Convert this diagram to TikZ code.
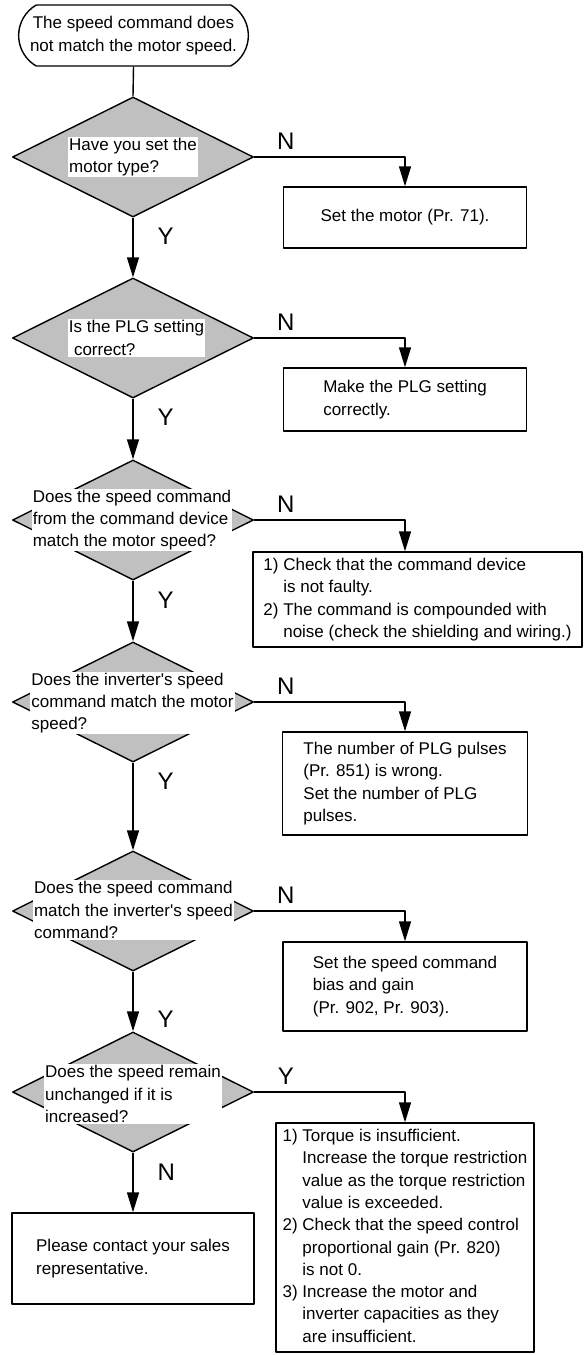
\documentclass[tikz,border=0pt]{standalone}
\usepackage{fontspec}
\setmainfont{Liberation Sans}
\usetikzlibrary{shapes.geometric,shapes.misc,arrows.meta}
\definecolor{qgray}{RGB}{192,192,192}
\newcommand{\hangsp}{\phantom{1)\ }}

\begin{document}
\begin{tikzpicture}[x=0.5pt,y=-0.5pt,line join=round,>={Triangle[length=10pt,width=6pt]},
	font=\fontsize{8.5}{11.15}\selectfont,line width=0.7pt,
	ask/.style={diamond,draw,fill=qgray,minimum width=120.5pt,minimum height=60pt,inner sep=0pt},
	asktxt/.style={fill=white,align=left,inner sep=0.6pt},
	todo/.style={draw,align=left,inner sep=0pt},
	yn/.style={font=\fontsize{12}{14}\selectfont,inner sep=0pt}]
	\useasboundingbox (0,0) rectangle (584,1355);
	% start
	\node[draw,rounded rectangle,rounded rectangle arc length=120,minimum width=121.5pt,minimum height=30.5pt,align=center] (start) at (133.5,35.5) {The speed command does\\not match the motor speed.};
	% questions
	\foreach \n/\y in {1/157,2/338,3/520,4/702,5/911,6/1092}
	\node[ask] (q\n) at (133,\y) {};
	\node[asktxt] (t1) at (133,157) {Have you set the\\motor type?};
	\node[asktxt] (t2) at (136.5,338) {Is the PLG setting\\\hspace*{0.3em}correct?};
	\node[asktxt] (t3) at (132,520) {Does the speed command\\from the command device\\match the motor speed?};
	\node[asktxt] (t4) at (132.5,703) {Does the inverter\textquotesingle s speed\\command match the motor\\speed?};
	\node[asktxt] (t5) at (133.5,910) {Does the speed command\\match the inverter\textquotesingle s speed\\command?};
	\node[asktxt] (t6) at (133,1094) {Does the speed remain\\unchanged if it is\\increased?};
	% remedies
	\node[todo,minimum width=121.5pt,minimum height=30.5pt,align=center] (b1) at (405,217.5) {Set the motor (Pr. 71).};
	\node[todo,minimum width=121.5pt,minimum height=31.5pt] (b2) at (405,399.5) {Make the PLG setting\\correctly.};
	\node[todo,minimum width=164.5pt,minimum height=47.5pt] (b3) at (417.5,599.5) {1) Check that the command device\\\hangsp is not faulty.\\2) The command is compounded with\\\hangsp noise (check the shielding and wiring.)};
	\node[todo,minimum width=122.5pt,minimum height=51.5pt] (b4) at (405,783.5) {The number of PLG pulses\\(Pr. 851) is wrong.\\Set the number of PLG\\pulses.};
	\node[todo,minimum width=122pt,minimum height=44.5pt] (b5) at (405,986.5) {Set the speed command\\bias and gain\\(Pr. 902, Pr. 903).};
	\node[todo,minimum width=129pt,minimum height=114.5pt] (b6) at (405,1237.5) {1) Torque is insufficient.\\\hangsp Increase the torque restriction\\\hangsp value as the torque restriction\\\hangsp value is exceeded.\\2) Check that the speed control\\\hangsp proportional gain (Pr. 820)\\\hangsp is not 0.\\3) Increase the motor and\\\hangsp inverter capacities as they\\\hangsp are insufficient.};
	\node[todo,minimum width=121pt,minimum height=45.5pt] (b7) at (133,1258.5) {Please contact your sales\\representative.};
	\coordinate (rcol) at (405,0);
	% main column
	\draw (start.south) -- (q1.north);
	\draw[->] (q1.south) -- node[yn,right=12pt,pos=0.31] {Y} (q2.north);
	\draw[->] (q2.south) -- node[yn,right=12pt,pos=0.31] {Y} (q3.north);
	\draw[->] (q3.south) -- node[yn,right=12pt,pos=0.32] {Y} (q4.north);
	\draw[->] (q4.south) -- node[yn,right=12pt,pos=0.21] {Y} (q5.north);
	\draw[->] (q5.south) -- node[yn,right=12pt,pos=0.8] {Y} (q6.north);
	\draw[->] (q6.south) -- node[yn,right=12pt,pos=0.33] {N} (b7.north);
	% side branches
	\draw[->] (q1.east) -| node[yn,above=3.5pt,pos=0.105] {N} (b1.north);
	\draw[->] (q2.east) -| node[yn,above=3.5pt,pos=0.105] {N} (b2.north);
	\draw[->] (q3.east) -| node[yn,above=3.5pt,pos=0.105] {N} (b3.north -| rcol);
	\draw[->] (q4.east) -| node[yn,above=3.5pt,pos=0.105] {N} (b4.north);
	\draw[->] (q5.east) -| node[yn,above=3.5pt,pos=0.105] {N} (b5.north);
	\draw[->] (q6.east) -| node[yn,above=3.5pt,pos=0.105] {Y} (b6.north);
\end{tikzpicture}
\end{document}
